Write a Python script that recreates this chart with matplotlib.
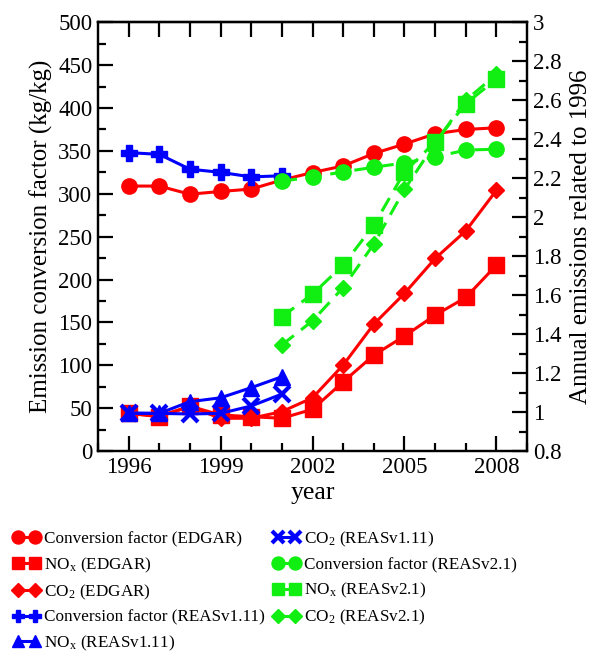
import numpy as np
import matplotlib
matplotlib.use("Agg")
import matplotlib.pyplot as plt
from matplotlib.ticker import MultipleLocator

plt.rcParams['font.family'] = ['Liberation Serif', 'DejaVu Serif']
plt.rcParams['mathtext.fontset'] = 'stix'

years = np.arange(1996, 2009)
years_v1 = np.arange(1996, 2002)
years_v2 = np.arange(2001, 2009)

# conversion factors (kg/kg), left axis
conv_edgar = [309, 309, 299.5, 302.7, 305.5, 316, 324.8, 332.5, 347, 358, 370, 375, 377]
conv_reas1 = [348, 346, 328.7, 325, 319.7, 321]
conv_reas2 = [314.7, 319.7, 325.5, 331, 336, 343, 351, 352]

# emissions relative to 1996, right axis
nox_edgar = [0.993, 0.976, 1.03, 0.985, 0.976, 0.968, 1.014, 1.155, 1.292, 1.39, 1.497, 1.588, 1.754]
co2_edgar = [0.993, 0.98, 1.027, 0.968, 0.968, 1.002, 1.073, 1.241, 1.451, 1.609, 1.788, 1.93, 2.138]
nox_reas1 = [0.995, 0.993, 1.053, 1.073, 1.125, 1.181]
co2_reas1 = [0.993, 0.993, 0.99, 0.993, 1.031, 1.092]
nox_reas2 = [1.489, 1.605, 1.754, 1.959, 2.232, 2.386, 2.583, 2.708]
co2_reas2 = [1.344, 1.468, 1.639, 1.862, 2.142, 2.38, 2.6, 2.733]

red = '#ff0000'
blue = '#0000ff'
green = '#11ee11'
ms = 11
lw = 2.2

fig = plt.figure(figsize=(6.08, 6.56), dpi=100)
ax = fig.add_axes([0.161, 0.3125, 0.706, 0.6535])
ax2 = ax.twinx()

h = []
h += ax.plot(years, conv_edgar, '-o', color=red, lw=lw, ms=ms, label='Conversion factor (EDGAR)')
h += ax2.plot(years, nox_edgar, '-s', color=red, lw=lw, ms=ms, label='NO$_\\mathregular{x}$ (EDGAR)')
h += ax2.plot(years, co2_edgar, '-D', color=red, lw=lw, ms=ms * 0.75, label='CO$_\\mathregular{2}$ (EDGAR)')
h += ax.plot(years_v1, conv_reas1, '-P', color=blue, lw=lw, ms=ms, label='Conversion factor (REASv1.11)')
h += ax2.plot(years_v1, nox_reas1, '-^', color=blue, lw=lw, ms=ms, label='NO$_\\mathregular{x}$ (REASv1.11)')
h += ax2.plot(years_v1, co2_reas1, '-x', color=blue, lw=lw, ms=ms, mew=3, label='CO$_\\mathregular{2}$ (REASv1.11)')
h += ax.plot(years_v2, conv_reas2, 'o', ls=(0, (5, 3)), color=green, lw=lw, ms=ms, label='Conversion factor (REASv2.1)')
h += ax2.plot(years_v2, nox_reas2, 's', ls=(0, (5, 3)), color=green, lw=lw, ms=ms, label='NO$_\\mathregular{x}$ (REASv2.1)')
h += ax2.plot(years_v2, co2_reas2, 'D', ls=(0, (5, 3)), color=green, lw=lw, ms=ms * 0.75, label='CO$_\\mathregular{2}$ (REASv2.1)')

ax.set_xlim(1995, 2009)
ax.set_ylim(0, 500)
ax2.set_ylim(0.8, 3.0)
ax.set_xticks([1996, 1999, 2002, 2005, 2008])
ax.xaxis.set_minor_locator(MultipleLocator(1))
ax.yaxis.set_major_locator(MultipleLocator(50))
ax.yaxis.set_minor_locator(MultipleLocator(25))
ax2.yaxis.set_major_locator(MultipleLocator(0.2))
ax2.yaxis.set_minor_locator(MultipleLocator(0.1))
ax2.set_yticklabels(['%g' % v for v in ax2.get_yticks()])

for a in (ax, ax2):
    for s in a.spines.values():
        s.set_linewidth(1.6)
    a.tick_params(which='both', direction='in', width=1.6, labelsize=16.5, pad=4)
    a.tick_params(which='major', length=10.5)
    a.tick_params(which='minor', length=6)

# top edge: ticks at every year, all long
top = ax.secondary_xaxis('top')
top.set_xticks(years)
top.set_xticklabels([])
top.tick_params(direction='in', length=10.5, width=1.6)
top.spines['top'].set_linewidth(1.6)

ax.set_xlabel('year', fontsize=18.5, labelpad=3)
ax.set_ylabel('Emission conversion factor (kg/kg)', fontsize=18, labelpad=4)
ax2.set_ylabel('Annual emissions related to 1996', fontsize=18, labelpad=6)

fig.legend(handles=h, ncol=2, loc='upper left', bbox_to_anchor=(0.01, 0.203),
           frameon=False, fontsize=12.3, numpoints=2, handlelength=1.6,
           markerscale=0.85, handletextpad=0.2, columnspacing=0.5,
           labelspacing=0.47, borderaxespad=0)

fig.savefig('out.png', dpi=100)
